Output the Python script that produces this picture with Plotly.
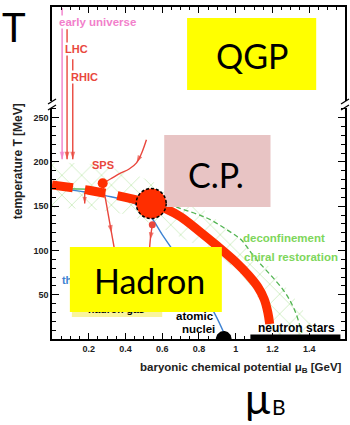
import numpy as np
import plotly.graph_objects as go

# ---------------- data (μB in GeV, T in MeV) ----------------
# phase boundary: crossover part (dashed) and first-order part (solid)
crossover_mu = [0.0, 0.2, 0.4, 0.54]
crossover_T = [174, 168, 160, 153]
first_order_mu = [0.54, 0.62, 0.70, 0.80, 0.90, 1.00, 1.07, 1.12, 1.155, 1.175, 1.185]
first_order_T = [153, 147, 138, 122, 105, 87, 72, 59, 45, 30, 17]

# critical point
cp_mu = [0.54]
cp_T = [153]

# chemical freeze-out curve
freeze_mu = [0.0, 0.18, 0.29, 0.45, 0.53, 0.60, 0.66, 0.74, 0.82, 0.89, 0.94]
freeze_T = [171, 166, 162, 153, 140, 118, 100, 78, 52, 27, 5]

# lattice crossover segment
lattice_mu = [0.0, 0.25]
lattice_T = [170, 169]

# deconfinement / chiral restoration line
chiral_mu = [0.60, 0.68, 0.84, 0.97, 1.03, 1.10, 1.26, 1.32, 1.36]
chiral_T = [158, 149, 137, 121, 112, 93, 55, 33, 7]

# crossover band
band_upper_mu = [0.0, 0.2, 0.4, 0.6, 0.8, 1.0, 1.2, 1.35, 1.46]
band_upper_T = [200, 198, 190, 173, 150, 118, 78, 38, 0]
band_lower_mu = [0.0, 0.2, 0.4, 0.55, 0.7, 0.85, 1.0, 1.1, 1.16, 1.19]
band_lower_T = [148, 147, 141, 130, 115, 100, 80, 56, 30, 0]

# collider trajectories
early_mu = [0.055, 0.055]
early_T = [374, 203]
lhc_mu = [0.082, 0.082]
lhc_T = [350, 203]
rhic_mu = [0.113, 0.113]
rhic_T = [316, 203]
rhic_low_mu = [0.178, 0.178]
rhic_low_T = [165, 153]

# SPS trajectory
sps_in_mu = [0.514, 0.49, 0.46, 0.42, 0.37, 0.32, 0.276]
sps_in_T = [225, 211, 199, 192, 187, 181, 176]
sps_out_mu = [0.276, 0.324, 0.363]
sps_out_T = [176, 120, 75]
sps_point_mu = [0.276]
sps_point_T = [176]

# trajectory below the critical point
cp_low_mu = [0.546, 0.535, 0.525]
cp_low_T = [129, 112, 80]

# nuclear matter and neutron stars
nuclei_mu = 0.935
nuclei_r_mu, nuclei_r_T = 0.043, 9
neutron_mu = [1.08, 1.57]
neutron_T = [0, 5]

x_ticks = [0.2, 0.4, 0.6, 0.8, 1.0, 1.2, 1.4]
x_ticktext = ["0.2", "0.4", "0.6", "0.8", "1", "1.2", "1.4"]
y_ticks = [50, 100, 150, 200, 250]
y_ticktext = ["50", "100", "150", "200", "250"]

# ---------------- layout helpers ----------------
W, H = 350, 425
L, R, TOP, B = 52, 347, 7, 339


def PX(x):
    return (x - L) / (R - L)


def PY(y):
    return (B - y) / (B - TOP)


RED = "#FF2E00"
TRED = "#E9473D"
PINK = "#F27FCB"
BLUE = "#3D82D2"
GREEN = "#52B452"
LGREEN = "#7ED65B"
SANS = "Liberation Sans, Arial, sans-serif"
BIG = "Lato, sans-serif"

fig = go.Figure()

# crossover band (hatched)
fig.add_trace(go.Scatter(
    x=band_upper_mu + band_lower_mu[::-1],
    y=band_upper_T + band_lower_T[::-1],
    mode="lines", line=dict(width=0), fill="toself",
    fillcolor="rgba(0,0,0,0)",
    fillpattern=dict(shape="x", fgcolor="rgba(165,222,140,0.85)", size=14,
                     solidity=0.08, fillmode="replace"),
    hoverinfo="skip"))

fig.add_trace(go.Scatter(x=lattice_mu, y=lattice_T, mode="lines",
                         line=dict(color=GREEN, width=1.3)))
fig.add_trace(go.Scatter(x=freeze_mu, y=freeze_T, mode="lines",
                         line=dict(color=BLUE, width=1.4, shape="spline")))
fig.add_trace(go.Scatter(x=chiral_mu, y=chiral_T, mode="lines",
                         line=dict(color=GREEN, width=1.3, dash="5px,3px",
                                   shape="spline")))


def trajectory(xs, ys, sizes, color, width=1.4):
    fig.add_trace(go.Scatter(
        x=xs, y=ys, mode="lines+markers",
        line=dict(color=color, width=width, shape="spline"),
        marker=dict(symbol="arrow", angleref="previous", size=sizes,
                    color=color, line=dict(width=0))))


trajectory(early_mu, early_T, [0, 8], PINK)
trajectory(lhc_mu, lhc_T, [0, 8], TRED)
trajectory(rhic_mu, rhic_T, [0, 8], TRED)
trajectory(rhic_low_mu, rhic_low_T, [0, 7], TRED)
trajectory(sps_in_mu, sps_in_T, [0, 0, 8, 0, 0, 0, 0], TRED)
trajectory(sps_out_mu, sps_out_T, [0, 8, 0], TRED)
trajectory(cp_low_mu, cp_low_T, [0, 8, 0], TRED)

fig.add_trace(go.Scatter(x=sps_point_mu, y=sps_point_T, mode="markers",
                         marker=dict(size=10, color=RED)))
fig.add_trace(go.Scatter(x=[cp_low_mu[0]], y=[cp_low_T[0]], mode="markers",
                         marker=dict(size=7, color=TRED)))

# phase boundary
fig.add_trace(go.Scatter(x=crossover_mu, y=crossover_T, mode="lines",
                         line=dict(color=RED, width=9, dash="21px,12px",
                                   shape="spline")))
fig.add_trace(go.Scatter(x=first_order_mu, y=first_order_T, mode="lines",
                         line=dict(color=RED, width=9, shape="spline")))

# nuclear matter ground state and neutron stars
ang = np.linspace(0, np.pi, 40)
fig.add_trace(go.Scatter(
    x=list(nuclei_mu + nuclei_r_mu * np.cos(ang)),
    y=list(nuclei_r_T * np.sin(ang)),
    mode="lines", line=dict(width=0, color="black"), fill="toself",
    fillcolor="black"))
fig.add_trace(go.Scatter(
    x=[neutron_mu[0], neutron_mu[1], neutron_mu[1], neutron_mu[0]],
    y=[neutron_T[0], neutron_T[0], neutron_T[1], neutron_T[1]],
    mode="lines", line=dict(width=0), fill="toself", fillcolor="black"))

# labels lying under the hadron box
fig.add_trace(go.Scatter(
    x=[0.054], y=[65], mode="text", text=["<b>th</b>"],
    textposition="middle right",
    textfont=dict(family=SANS, size=11, color=BLUE)))
fig.add_trace(go.Scatter(
    x=[0.35], y=[32], mode="text", text=["<b>hadron gas</b>"],
    textposition="middle center",
    textfont=dict(family=SANS, size=10.5, color="black")))

shapes = []
# pale strip behind "hadron gas"
shapes.append(dict(type="rect", xref="paper", yref="paper", layer="below",
                   x0=PX(72), x1=PX(163), y0=PY(317), y1=PY(306),
                   fillcolor="#F9F49C", line=dict(width=0)))
# region boxes
shapes.append(dict(type="rect", xref="paper", yref="paper", layer="above",
                   x0=PX(188), x1=PX(318), y0=PY(90), y1=PY(18),
                   fillcolor="#FFFF00", line=dict(width=0)))
shapes.append(dict(type="rect", xref="paper", yref="paper", layer="above",
                   x0=PX(165), x1=PX(272), y0=PY(207), y1=PY(135),
                   fillcolor="#E8C4C4", line=dict(width=0)))
# critical point
shapes.append(dict(type="circle", xref="x", yref="y", layer="above",
                   xsizemode="pixel", ysizemode="pixel",
                   xanchor=cp_mu[0], yanchor=cp_T[0],
                   x0=-15, x1=15, y0=-15, y1=15,
                   fillcolor=RED, line=dict(color="black", width=1.5,
                                            dash="3px,2px")))
shapes.append(dict(type="rect", xref="paper", yref="paper", layer="above",
                   x0=PX(70), x1=PX(223), y0=PY(312), y1=PY(247),
                   fillcolor="#FFFF00", line=dict(width=0)))
# axis breaks
for xb in (L, R):
    shapes.append(dict(type="rect", xref="paper", yref="paper", layer="above",
                       x0=PX(xb - 3), x1=PX(xb + 3), y0=PY(108), y1=PY(101),
                       fillcolor="white", line=dict(width=0)))
    for y0 in (99, 105):
        shapes.append(dict(type="line", xref="paper", yref="paper",
                           layer="above",
                           x0=PX(xb - 4), x1=PX(xb + 4),
                           y0=PY(y0 + 5), y1=PY(y0),
                           line=dict(color="black", width=1.3)))

annotations = []


def ann(text, x, y, size, color="black", family=SANS, xanchor="center",
        bg=None, angle=0):
    d = dict(text=text, x=PX(x), y=PY(y), xref="paper", yref="paper",
             showarrow=False, xanchor=xanchor, yanchor="middle",
             font=dict(family=family, size=size, color=color),
             textangle=angle, borderpad=0)
    if bg:
        d["bgcolor"] = bg
    annotations.append(d)


ann("<b>early universe</b>", 98, 22, 11.5, PINK, bg="white")
ann("<b>LHC</b>", 76.5, 49, 11, TRED, bg="white")
ann("<b>RHIC</b>", 84.5, 77, 11, TRED, bg="white")
ann("<b>SPS</b>", 103, 165, 11, TRED)
ann("<b>deconfinement</b>", 243, 238, 11.5, LGREEN, xanchor="left")
ann("<b>chiral restoration</b>", 244, 257, 11.5, LGREEN, xanchor="left")
ann("<b>atomic</b>", 196, 316, 11.5)
ann("<b>nuclei</b>", 199, 329, 11.5)
ann("<b>neutron stars</b>", 298, 328, 12)
ann("<b>temperature T [MeV]</b>", 18, 161, 12, "#222", angle=-90)
ann("<b>baryonic chemical potential μ<sub>B</sub> [GeV]</b>", 242, 368, 11.5,
    "#222")

ann("QGP", 253, 56, 34, family=BIG)
ann("C.P.", 217, 174, 34, family=BIG)
ann("Hadron", 150, 280, 34, family=BIG)
ann("T", 14, 27, 40, family=BIG)
ann("μ", 259, 398, 42, family=BIG)
ann("B", 281, 407, 21, family=BIG)

axis_common = dict(showline=True, linecolor="black", linewidth=1.5,
                   mirror="ticks", ticks="inside", tickcolor="black",
                   tickwidth=1, showgrid=False, zeroline=False,
                   tickfont=dict(family=SANS, size=9, color="#222",
                                 weight="bold"))

fig.update_layout(
    width=W, height=H,
    margin=dict(l=L, r=W - R, t=TOP, b=H - B),
    paper_bgcolor="white", plot_bgcolor="white",
    showlegend=False,
    xaxis=dict(range=[0, 1.595], tickvals=x_ticks, ticktext=x_ticktext,
               ticklen=6,
               minor=dict(tickvals=[round(0.05 * i, 2) for i in range(1, 32)],
                          ticklen=3.5, ticks="inside", tickcolor="black"),
               **axis_common),
    yaxis=dict(range=[0, 375], tickvals=y_ticks, ticktext=y_ticktext,
               ticklen=7,
               minor=dict(tickvals=list(range(10, 261, 10)),
                          ticklen=4, ticks="inside", tickcolor="black"),
               **axis_common),
    shapes=shapes, annotations=annotations,
)

fig.write_html("out.html")
